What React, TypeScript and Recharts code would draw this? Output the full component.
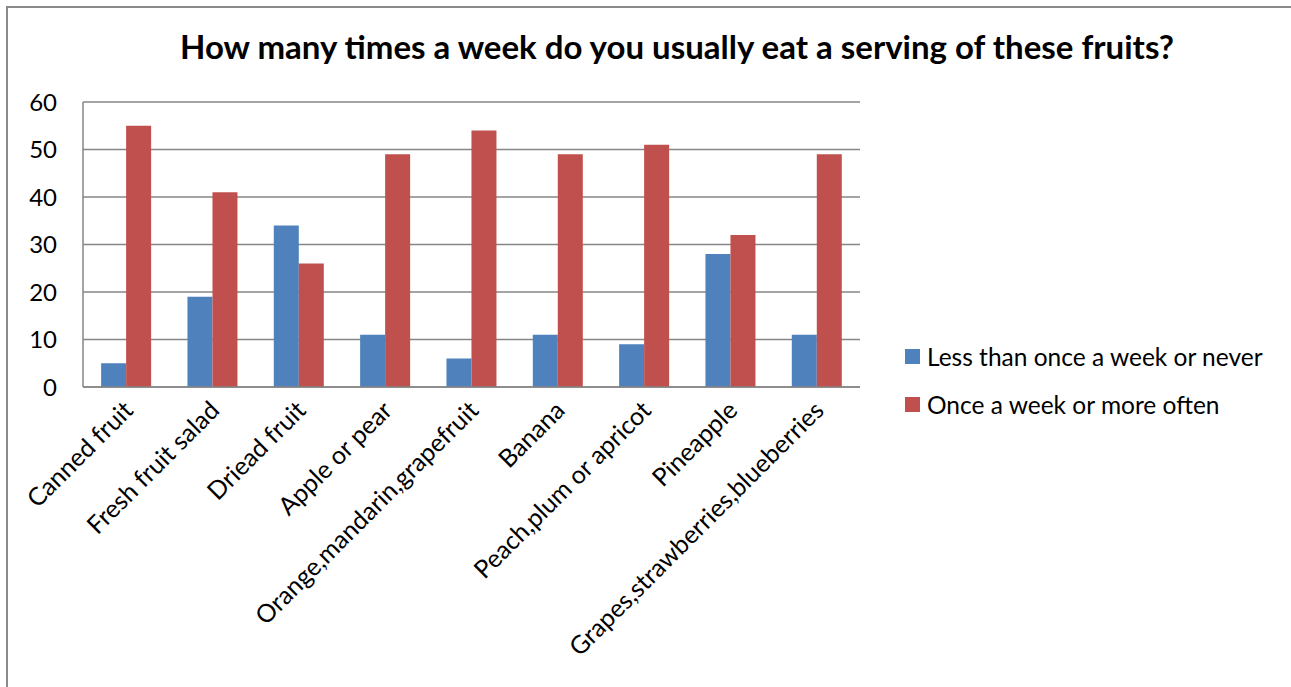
import { BarChart, Bar, XAxis, YAxis, CartesianGrid } from "recharts";

const categories = [
  "Canned fruit",
  "Fresh fruit salad",
  "Driead fruit",
  "Apple or pear",
  "Orange,mandarin,grapefruit",
  "Banana",
  "Peach,plum or apricot",
  "Pineapple",
  "Grapes,strawberries,blueberries",
];
const lessOften = [5, 19, 34, 11, 6, 11, 9, 28, 11];
const moreOften = [55, 41, 26, 49, 54, 49, 51, 32, 49];
const yTicks = [0, 10, 20, 30, 40, 50, 60];

const SERIES = [
  { key: "less", name: "Less than once a week or never", color: "#4F81BD" },
  { key: "more", name: "Once a week or more often", color: "#C0504D" },
];

const data = categories.map((name, i) => ({ name, less: lessOften[i], more: moreOften[i] }));

const FONT = "Lato, 'Open Sans', sans-serif";

function RotatedTick({ x, y, payload }: any) {
  return (
    <text
      x={x}
      y={y}
      dy={18}
      dx={-6}
      textAnchor="end"
      fontSize={25}
      fontFamily={FONT}
      fill="#000"
      transform={`rotate(-45, ${x}, ${y})`}
    >
      {payload.value}
    </text>
  );
}

export default function App() {
  return (
    <div style={{ position: "absolute", left: 0, top: 0, width: 1291, height: 687, background: "#fff", overflow: "hidden" }}>
      <div
        style={{
          position: "absolute",
          left: 6,
          top: 6,
          width: 1300,
          height: 700,
          border: "2px solid #8a8a8a",
          boxSizing: "border-box",
        }}
      />
      <div
        style={{
          position: "absolute",
          left: 0,
          top: 26,
          width: 1354,
          textAlign: "center",
          fontFamily: FONT,
          fontWeight: 700,
          fontSize: 33,
          color: "#000",
        }}
      >
        How many times a week do you usually eat a serving of these fruits?
      </div>
      <div style={{ position: "absolute", left: 0, top: 0 }}>
        <BarChart
          width={1291}
          height={687}
          data={data}
          margin={{ top: 102, right: 431, bottom: 0, left: 0 }}
          barGap={0}
          barCategoryGap="21%"
        >
          <CartesianGrid vertical={false} stroke="#868686" strokeWidth={1.5} />
          <XAxis
            dataKey="name"
            interval={0}
            height={300}
            tickLine={false}
            axisLine={{ stroke: "#868686", strokeWidth: 1.5 }}
            tick={<RotatedTick />}
          />
          <YAxis
            width={83}
            domain={[0, 60]}
            ticks={yTicks}
            tickLine={false}
            tickMargin={20}
            axisLine={{ stroke: "#868686", strokeWidth: 1.5 }}
            tick={{ fontSize: 24, fontFamily: FONT, fill: "#000" }}
          />
          {SERIES.map((s) => (
            <Bar key={s.key} dataKey={s.key} name={s.name} fill={s.color} isAnimationActive={false} />
          ))}
        </BarChart>
      </div>
      <div style={{ position: "absolute", left: 905, top: 332, fontFamily: FONT, fontSize: 24.5, color: "#000" }}>
        {SERIES.map((s) => (
          <div key={s.key} style={{ display: "flex", alignItems: "center", height: 48, whiteSpace: "nowrap" }}>
            <span style={{ width: 15, height: 15, background: s.color, marginRight: 7, display: "inline-block" }} />
            {s.name}
          </div>
        ))}
      </div>
    </div>
  );
}
